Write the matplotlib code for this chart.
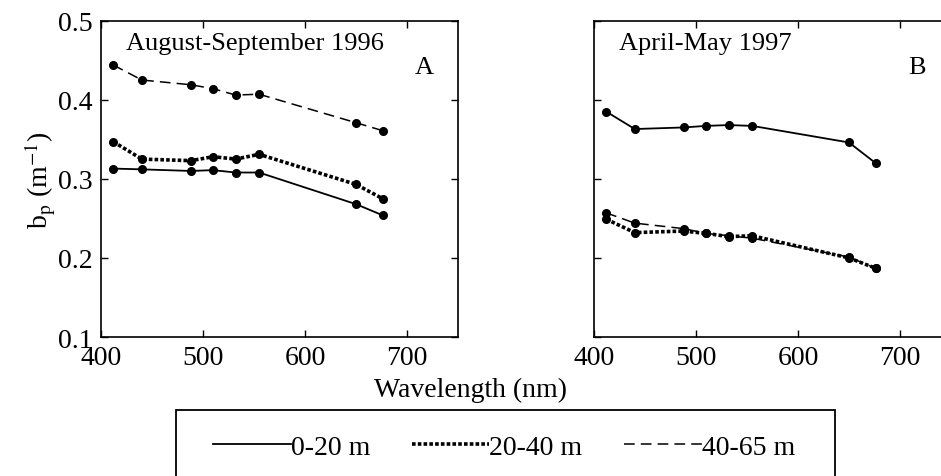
import matplotlib
matplotlib.use("Agg")
import matplotlib.pyplot as plt
from matplotlib.patches import Rectangle
from matplotlib.lines import Line2D

wavelength = [412, 440, 488, 510, 532, 555, 650, 676]

a_0_20 = [0.313, 0.312, 0.310, 0.311, 0.308, 0.308, 0.268, 0.254]
a_20_40 = [0.347, 0.325, 0.323, 0.328, 0.325, 0.331, 0.293, 0.275]
a_40_65 = [0.444, 0.425, 0.419, 0.414, 0.406, 0.407, 0.371, 0.361]

b_0_20 = [0.385, 0.363, 0.365, 0.367, 0.368, 0.367, 0.346, 0.320]
b_20_40 = [0.249, 0.232, 0.234, 0.231, 0.227, 0.228, 0.200, 0.187]
b_40_65 = [0.257, 0.244, 0.237, 0.231, 0.228, 0.225, 0.201, 0.187]

series_labels = ["0-20 m", "20-40 m", "40-65 m"]
xticks = [400, 500, 600, 700]
yticks = [0.1, 0.2, 0.3, 0.4, 0.5]

plt.rcParams['font.family'] = ['Liberation Serif', 'DejaVu Serif']
plt.rcParams['mathtext.fontset'] = 'stix'

W, H = 941, 477
fig = plt.figure(figsize=(W / 100, H / 100), dpi=100)

styles = [
    dict(linestyle='-', linewidth=1.3),
    dict(linestyle=(0, (1, 0.6)), linewidth=2.6),
    dict(linestyle=(0, (7, 4)), linewidth=1.1),
]

def make_ax(left, data, title, letter, show_ylabels):
    ax = fig.add_axes([left / W, 1 - 338 / H, 357 / W, (338 - 21.7) / H])
    for vals, st in zip(data, styles):
        ax.plot(wavelength, vals, color='black', marker='o', markersize=5.5,
                **st)
    ax.set_xlim(400, 750)
    ax.set_ylim(0.1, 0.5)
    ax.set_xticks(xticks)
    ax.set_yticks(yticks)
    ax.set_yticklabels([f"{v:.1f}" for v in yticks] if show_ylabels else [])
    ax.tick_params(direction='in', top=True, right=True, length=5,
                   labelsize=20, width=1, pad=6)
    for s in ax.spines.values():
        s.set_linewidth(1.2)
    ax.text(0.07, 0.965, title, transform=ax.transAxes, fontsize=19,
            ha='left', va='top')
    ax.text(0.905, 0.855, letter, transform=ax.transAxes, fontsize=19,
            ha='center', va='center')
    return ax

axA = make_ax(101, [a_0_20, a_20_40, a_40_65], "August-September 1996", "A", True)
axB = make_ax(594, [b_0_20, b_20_40, b_40_65], "April-May 1997", "B", False)
axA.set_ylabel(r"b$_\mathrm{p}$ (m$^{-1}$)", fontsize=20, labelpad=0)

fig.text(470 / W, 1 - 390 / H, "Wavelength (nm)", ha='center', va='center',
         fontsize=20)

rect = Rectangle((176 / W, -0.2), (835 - 176) / W, 0.2 + 1 - 411 / H,
                 transform=fig.transFigure, fill=False, edgecolor='black',
                 linewidth=1.3)
fig.patches.append(rect)

handles = [Line2D([], [], color='black', **st) for st in styles]
fig.legend(handles, series_labels, ncol=3, frameon=False, fontsize=20,
           loc='center', bbox_to_anchor=(504 / W, 1 - 448 / H),
           handlelength=2.8, handletextpad=0.0, columnspacing=1.5)

fig.savefig("out.png", dpi=100)
